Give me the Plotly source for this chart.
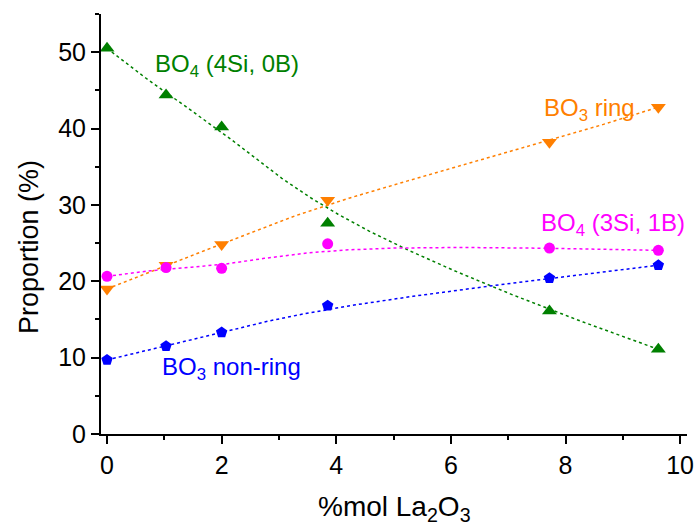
import numpy as np
import plotly.graph_objects as go

# Data
x_la2o3 = [0, 1.03, 2, 3.85, 7.72, 9.62]
bo4_4si0b = [50.5, 44.4, 40.2, 27.6, 16.1, 11.1]
bo3_ring = [19.0, 22.1, 24.8, 30.6, 38.2, 42.8]
bo4_3si1b = [20.65, 21.8, 21.7, 24.9, 24.35, 24.05]
bo3_nonring = [9.7, 11.5, 13.3, 16.8, 20.4, 22.1]

x_ticks = [0, 2, 4, 6, 8, 10]
y_ticks = [0, 10, 20, 30, 40, 50]

FONT = "Arial, Liberation Sans, sans-serif"

series = [
    ("BO<sub>4</sub> (4Si, 0B)", bo4_4si0b, "#008000", "triangle-up", 13),
    ("BO<sub>3</sub> ring", bo3_ring, "#FF7F00", "triangle-down", 13),
    ("BO<sub>4</sub> (3Si, 1B)", bo4_3si1b, "#FF00FF", "circle", 11),
    ("BO<sub>3</sub> non-ring", bo3_nonring, "#0000FF", "pentagon", 12),
]


def bspline(px, py, degree=3, n=300):
    """Clamped uniform B-spline using the data points as control points."""
    px = np.asarray(px, float)
    py = np.asarray(py, float)
    m = len(px)
    inner = np.linspace(0, 1, m - degree + 1)
    knots = np.concatenate([[0] * degree, inner, [1] * degree])
    ts = np.linspace(0, 1, n)
    outx, outy = [], []
    for t in ts:
        N = np.zeros(len(knots) - 1)
        for i in range(len(knots) - 1):
            if knots[i] <= t < knots[i + 1] or (t == 1 and knots[i] < knots[i + 1] == 1):
                N[i] = 1.0
        for k in range(1, degree + 1):
            Nn = np.zeros(len(knots) - 1 - k)
            for i in range(len(Nn)):
                a = 0.0
                d1 = knots[i + k] - knots[i]
                if d1 > 0:
                    a += (t - knots[i]) / d1 * N[i]
                d2 = knots[i + k + 1] - knots[i + 1]
                if d2 > 0:
                    a += (knots[i + k + 1] - t) / d2 * N[i + 1]
                Nn[i] = a
            N = Nn
        outx.append(float(N @ px))
        outy.append(float(N @ py))
    return outx, outy


fig = go.Figure()
for name, ys, color, sym, size in series:
    bx, by = bspline(x_la2o3, ys)
    fig.add_trace(go.Scatter(x=bx, y=by, mode="lines",
                             line=dict(color=color, width=1.5, dash="dot"),
                             showlegend=False, hoverinfo="skip"))
for name, ys, color, sym, size in series:
    fig.add_trace(go.Scatter(x=x_la2o3, y=ys, mode="markers", name=name,
                             marker=dict(color=color, symbol=sym, size=size, line=dict(width=0)),
                             showlegend=False))

anns = [
    ("BO<sub>4</sub> (4Si, 0B)", 0.8, 48.3, "#008000", "left"),
    ("BO<sub>3</sub> ring", 9.25, 42.5, "#FF7F00", "right"),
    ("BO<sub>4</sub> (3Si, 1B)", 7.54, 27.5, "#FF00FF", "left"),
    ("BO<sub>3</sub> non-ring", 0.92, 8.6, "#0000FF", "left"),
]
for text, ax, ay, color, anchor in anns:
    fig.add_annotation(x=ax, y=ay, text=text, showarrow=False, xanchor=anchor, yanchor="middle",
                       font=dict(family=FONT, size=24, color=color))

# Axis titles
fig.add_annotation(xref="paper", yref="paper", x=0.5, y=-0.131, yanchor="top", xanchor="center",
                   text="%mol La<sub>2</sub>O<sub>3</sub>", showarrow=False,
                   font=dict(family=FONT, size=28, color="black"))
fig.add_annotation(xref="paper", yref="paper", x=-0.123, y=0.445, xanchor="center", yanchor="middle",
                   text="Proportion (%)", textangle=-90, showarrow=False,
                   font=dict(family=FONT, size=27, color="black"))

axis_common = dict(showline=True, linecolor="black", linewidth=2, ticks="outside",
                   tickcolor="black", tickwidth=2, ticklen=8, showgrid=False, zeroline=False,
                   automargin=False,
                   tickfont=dict(family=FONT, size=25, color="black"),
                   minor=dict(ticks="outside", ticklen=4, tickwidth=2, tickcolor="black", showgrid=False))

fig.update_xaxes(range=[-0.105, 10.12], tickvals=x_ticks, ticktext=[str(v) for v in x_ticks],
                 minor_dtick=1, **axis_common)
fig.update_yaxes(range=[0, 55], tickvals=y_ticks, ticktext=[str(v) for v in y_ticks],
                 minor_dtick=5, **axis_common)

fig.update_layout(width=696, height=526, margin=dict(l=101, r=9, t=14, b=92),
                  plot_bgcolor="white", paper_bgcolor="white")
fig.write_html("out.html", config={"displayModeBar": False},
               post_script="document.body.style.margin='0';")
